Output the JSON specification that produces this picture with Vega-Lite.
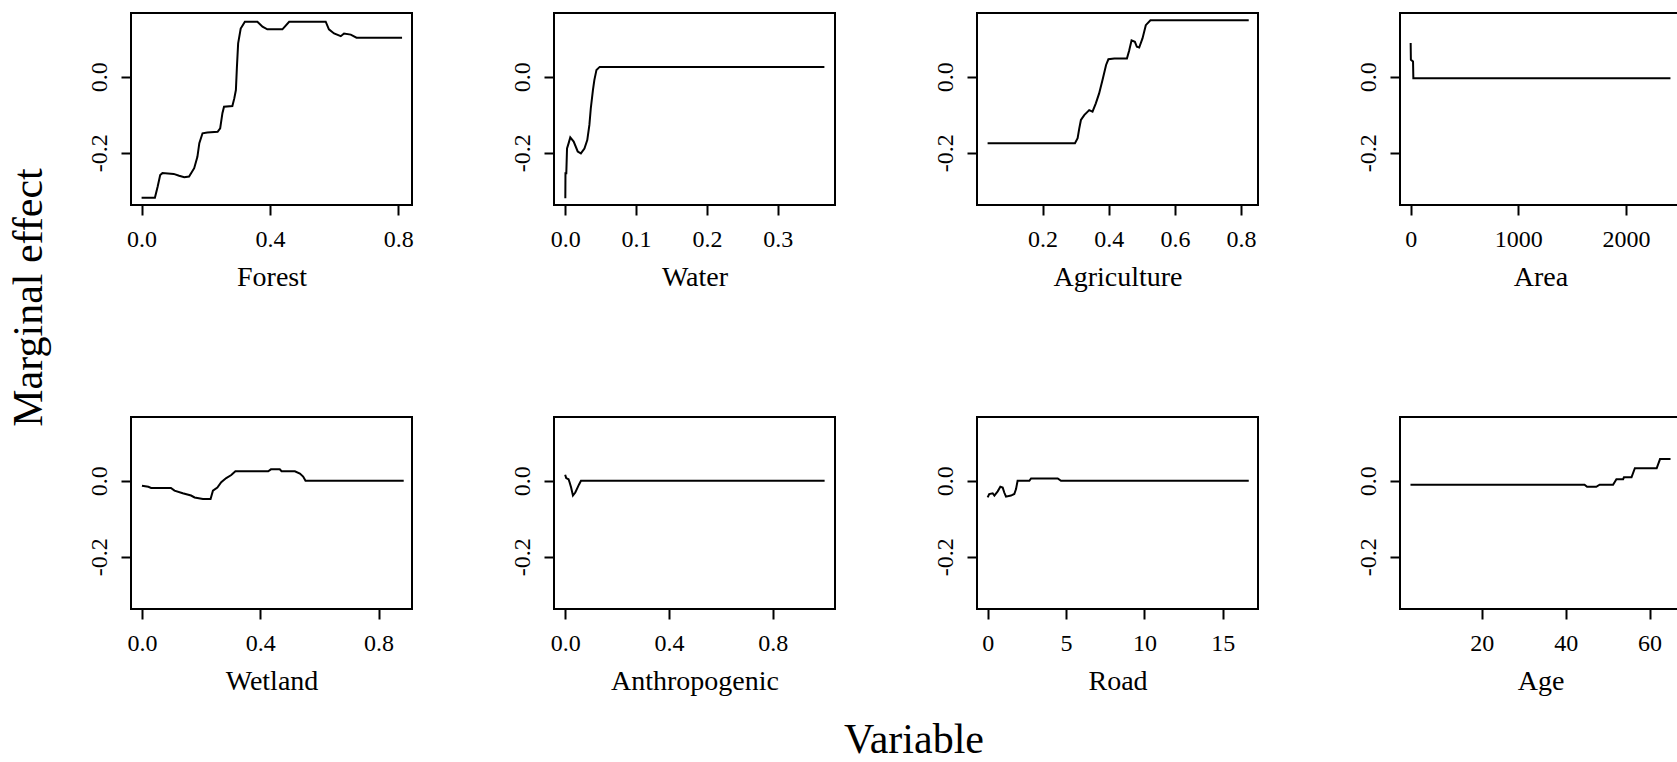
{
  "$schema": "https://vega.github.io/schema/vega-lite/v6.json",
  "background": "white",
  "padding": {"left": 7, "top": 12, "right": 0, "bottom": 0},
  "datasets": {
    "forest": [
      {"x": 0, "y": -0.319}, {"x": 0.0415, "y": -0.319}, {"x": 0.05, "y": -0.29}, {"x": 0.058, "y": -0.259},
      {"x": 0.065, "y": -0.254}, {"x": 0.1, "y": -0.256}, {"x": 0.117, "y": -0.261}, {"x": 0.133, "y": -0.265},
      {"x": 0.148, "y": -0.263}, {"x": 0.164, "y": -0.241}, {"x": 0.174, "y": -0.211}, {"x": 0.18, "y": -0.175},
      {"x": 0.19, "y": -0.149}, {"x": 0.205, "y": -0.147}, {"x": 0.237, "y": -0.145}, {"x": 0.245, "y": -0.136},
      {"x": 0.252, "y": -0.096}, {"x": 0.257, "y": -0.079}, {"x": 0.283, "y": -0.077}, {"x": 0.289, "y": -0.057},
      {"x": 0.294, "y": -0.035}, {"x": 0.297, "y": 0.022}, {"x": 0.301, "y": 0.088}, {"x": 0.309, "y": 0.127},
      {"x": 0.322, "y": 0.145}, {"x": 0.361, "y": 0.145}, {"x": 0.377, "y": 0.132}, {"x": 0.392, "y": 0.125},
      {"x": 0.439, "y": 0.125}, {"x": 0.46, "y": 0.145}, {"x": 0.574, "y": 0.145}, {"x": 0.584, "y": 0.125},
      {"x": 0.6, "y": 0.114}, {"x": 0.621, "y": 0.107}, {"x": 0.631, "y": 0.114}, {"x": 0.652, "y": 0.111},
      {"x": 0.67, "y": 0.103}, {"x": 0.812, "y": 0.103}
    ],
    "water": [
      {"x": 0, "y": -0.32}, {"x": 0.0002, "y": -0.254}, {"x": 0.0014, "y": -0.254}, {"x": 0.0024, "y": -0.189},
      {"x": 0.0047, "y": -0.175}, {"x": 0.007, "y": -0.16}, {"x": 0.0118, "y": -0.171}, {"x": 0.0175, "y": -0.197},
      {"x": 0.022, "y": -0.202}, {"x": 0.027, "y": -0.189}, {"x": 0.031, "y": -0.167}, {"x": 0.034, "y": -0.127},
      {"x": 0.036, "y": -0.083}, {"x": 0.039, "y": -0.035}, {"x": 0.041, "y": -0.009}, {"x": 0.044, "y": 0.018},
      {"x": 0.0486, "y": 0.026}, {"x": 0.366, "y": 0.026}
    ],
    "agriculture": [
      {"x": 0.034, "y": -0.175}, {"x": 0.298, "y": -0.175}, {"x": 0.306, "y": -0.162}, {"x": 0.311, "y": -0.136},
      {"x": 0.316, "y": -0.114}, {"x": 0.326, "y": -0.101}, {"x": 0.341, "y": -0.088}, {"x": 0.351, "y": -0.092},
      {"x": 0.361, "y": -0.07}, {"x": 0.371, "y": -0.044}, {"x": 0.381, "y": -0.009}, {"x": 0.392, "y": 0.031},
      {"x": 0.399, "y": 0.046}, {"x": 0.417, "y": 0.048}, {"x": 0.455, "y": 0.048}, {"x": 0.462, "y": 0.07},
      {"x": 0.469, "y": 0.096}, {"x": 0.479, "y": 0.092}, {"x": 0.485, "y": 0.079}, {"x": 0.492, "y": 0.077},
      {"x": 0.502, "y": 0.101}, {"x": 0.512, "y": 0.136}, {"x": 0.526, "y": 0.149}, {"x": 0.823, "y": 0.149}
    ],
    "area": [
      {"x": 0, "y": 0.089}, {"x": 2, "y": 0.045}, {"x": 22, "y": 0.04}, {"x": 25, "y": -0.004}, {"x": 2412, "y": -0.004}
    ],
    "wetland": [
      {"x": 0, "y": -0.013}, {"x": 0.0215, "y": -0.016}, {"x": 0.031, "y": -0.019}, {"x": 0.098, "y": -0.019},
      {"x": 0.11, "y": -0.026}, {"x": 0.138, "y": -0.033}, {"x": 0.166, "y": -0.039}, {"x": 0.178, "y": -0.044},
      {"x": 0.206, "y": -0.048}, {"x": 0.232, "y": -0.048}, {"x": 0.24, "y": -0.026}, {"x": 0.255, "y": -0.018},
      {"x": 0.268, "y": -0.004}, {"x": 0.285, "y": 0.007}, {"x": 0.302, "y": 0.015}, {"x": 0.316, "y": 0.025},
      {"x": 0.427, "y": 0.025}, {"x": 0.436, "y": 0.03}, {"x": 0.466, "y": 0.03}, {"x": 0.472, "y": 0.025},
      {"x": 0.517, "y": 0.025}, {"x": 0.534, "y": 0.019}, {"x": 0.545, "y": 0.011}, {"x": 0.553, "y": 0},
      {"x": 0.885, "y": 0}
    ],
    "anthropogenic": [
      {"x": 0, "y": 0.016}, {"x": 0.004, "y": 0.007}, {"x": 0.013, "y": 0.004}, {"x": 0.017, "y": -0.004},
      {"x": 0.023, "y": -0.018}, {"x": 0.03, "y": -0.039}, {"x": 0.039, "y": -0.031}, {"x": 0.045, "y": -0.022},
      {"x": 0.054, "y": -0.009}, {"x": 0.061, "y": 0}, {"x": 1.0, "y": 0}
    ],
    "road": [
      {"x": 0, "y": -0.044}, {"x": 0.1, "y": -0.035}, {"x": 0.32, "y": -0.033}, {"x": 0.43, "y": -0.039},
      {"x": 0.64, "y": -0.028}, {"x": 0.81, "y": -0.016}, {"x": 0.96, "y": -0.018}, {"x": 1.06, "y": -0.031},
      {"x": 1.17, "y": -0.042}, {"x": 1.49, "y": -0.039}, {"x": 1.7, "y": -0.035}, {"x": 1.81, "y": -0.022},
      {"x": 1.91, "y": 0}, {"x": 2.66, "y": 0}, {"x": 2.77, "y": 0.006}, {"x": 4.47, "y": 0.006},
      {"x": 4.68, "y": 0}, {"x": 16.66, "y": 0}
    ],
    "age": [
      {"x": 3, "y": -0.0105}, {"x": 44.5, "y": -0.0105}, {"x": 45.1, "y": -0.016}, {"x": 47.3, "y": -0.016},
      {"x": 48.1, "y": -0.0105}, {"x": 51.3, "y": -0.0105}, {"x": 52.1, "y": 0.004}, {"x": 53.7, "y": 0.004},
      {"x": 53.9, "y": 0.009}, {"x": 55.7, "y": 0.009}, {"x": 56.5, "y": 0.033}, {"x": 61.7, "y": 0.033},
      {"x": 62.5, "y": 0.057}, {"x": 65, "y": 0.057}
    ]
  },
  "title": {"text": "Marginal effect", "orient": "left", "anchor": "middle", "frame": "bounds", "offset": 2, "dx": 89, "fontSize": 42, "baseline": "alphabetic"},
  "vconcat": [
    {
      "title": {"text": "Variable", "orient": "bottom", "anchor": "middle", "frame": "group", "offset": 24, "dx": 783, "fontSize": 42},
      "columns": 4,
      "spacing": {"row": 212, "column": 142},
      "bounds": "flush",
      "concat": [
        {
          "width": 281, "height": 192, "data": {"name": "forest"},
          "mark": {"type": "line", "color": "black", "strokeWidth": 2},
          "encoding": {
            "x": {"field": "x", "type": "quantitative", "scale": {"domain": [-0.033, 0.843], "nice": false, "zero": false}, "axis": {"title": "Forest", "values": [0, 0.4, 0.8], "format": ".1f"}},
            "y": {"field": "y", "type": "quantitative", "scale": {"domain": [-0.338, 0.168], "nice": false, "zero": false}, "axis": {"title": null, "values": [-0.2, 0], "labelExpr": "replace(format(datum.value, '.1f'), '\u2212', '-')"}}
          }
        },
        {
          "width": 281, "height": 192, "data": {"name": "water"},
          "mark": {"type": "line", "color": "black", "strokeWidth": 2},
          "encoding": {
            "x": {"field": "x", "type": "quantitative", "scale": {"domain": [-0.016, 0.381], "nice": false, "zero": false}, "axis": {"title": "Water", "values": [0, 0.1, 0.2, 0.3], "format": ".1f"}},
            "y": {"field": "y", "type": "quantitative", "scale": {"domain": [-0.338, 0.168], "nice": false, "zero": false}, "axis": {"title": null, "values": [-0.2, 0], "labelExpr": "replace(format(datum.value, '.1f'), '\u2212', '-')"}}
          }
        },
        {
          "width": 281, "height": 192, "data": {"name": "agriculture"},
          "mark": {"type": "line", "color": "black", "strokeWidth": 2},
          "encoding": {
            "x": {"field": "x", "type": "quantitative", "scale": {"domain": [0.002, 0.851], "nice": false, "zero": false}, "axis": {"title": "Agriculture", "values": [0.2, 0.4, 0.6, 0.8], "format": ".1f"}},
            "y": {"field": "y", "type": "quantitative", "scale": {"domain": [-0.338, 0.168], "nice": false, "zero": false}, "axis": {"title": null, "values": [-0.2, 0], "labelExpr": "replace(format(datum.value, '.1f'), '\u2212', '-')"}}
          }
        },
        {
          "width": 281, "height": 192, "data": {"name": "area"},
          "mark": {"type": "line", "color": "black", "strokeWidth": 2},
          "encoding": {
            "x": {"field": "x", "type": "quantitative", "scale": {"domain": [-99, 2510], "nice": false, "zero": false}, "axis": {"title": "Area", "values": [0, 1000, 2000], "format": "d"}},
            "y": {"field": "y", "type": "quantitative", "scale": {"domain": [-0.338, 0.168], "nice": false, "zero": false}, "axis": {"title": null, "values": [-0.2, 0], "labelExpr": "replace(format(datum.value, '.1f'), '\u2212', '-')"}}
          }
        },
        {
          "width": 281, "height": 192, "data": {"name": "wetland"},
          "mark": {"type": "line", "color": "black", "strokeWidth": 2},
          "encoding": {
            "x": {"field": "x", "type": "quantitative", "scale": {"domain": [-0.037, 0.913], "nice": false, "zero": false}, "axis": {"title": "Wetland", "values": [0, 0.4, 0.8], "format": ".1f"}},
            "y": {"field": "y", "type": "quantitative", "scale": {"domain": [-0.338, 0.168], "nice": false, "zero": false}, "axis": {"title": null, "values": [-0.2, 0], "labelExpr": "replace(format(datum.value, '.1f'), '\u2212', '-')"}}
          }
        },
        {
          "width": 281, "height": 192, "data": {"name": "anthropogenic"},
          "mark": {"type": "line", "color": "black", "strokeWidth": 2},
          "encoding": {
            "x": {"field": "x", "type": "quantitative", "scale": {"domain": [-0.043, 1.04], "nice": false, "zero": false}, "axis": {"title": "Anthropogenic", "values": [0, 0.4, 0.8], "format": ".1f"}},
            "y": {"field": "y", "type": "quantitative", "scale": {"domain": [-0.338, 0.168], "nice": false, "zero": false}, "axis": {"title": null, "values": [-0.2, 0], "labelExpr": "replace(format(datum.value, '.1f'), '\u2212', '-')"}}
          }
        },
        {
          "width": 281, "height": 192, "data": {"name": "road"},
          "mark": {"type": "line", "color": "black", "strokeWidth": 2},
          "encoding": {
            "x": {"field": "x", "type": "quantitative", "scale": {"domain": [-0.68, 17.25], "nice": false, "zero": false}, "axis": {"title": "Road", "values": [0, 5, 10, 15], "format": "d"}},
            "y": {"field": "y", "type": "quantitative", "scale": {"domain": [-0.338, 0.168], "nice": false, "zero": false}, "axis": {"title": null, "values": [-0.2, 0], "labelExpr": "replace(format(datum.value, '.1f'), '\u2212', '-')"}}
          }
        },
        {
          "width": 281, "height": 192, "data": {"name": "age"},
          "mark": {"type": "line", "color": "black", "strokeWidth": 2},
          "encoding": {
            "x": {"field": "x", "type": "quantitative", "scale": {"domain": [0.5, 67.5], "nice": false, "zero": false}, "axis": {"title": "Age", "values": [20, 40, 60], "format": "d"}},
            "y": {"field": "y", "type": "quantitative", "scale": {"domain": [-0.338, 0.168], "nice": false, "zero": false}, "axis": {"title": null, "values": [-0.2, 0], "labelExpr": "replace(format(datum.value, '.1f'), '\u2212', '-')"}}
          }
        }
      ]
    }
  ],
  "config": {
    "font": "Liberation Serif",
    "view": {"stroke": "black", "strokeWidth": 2},
    "title": {"font": "Liberation Serif", "fontWeight": "normal", "color": "black", "fontSize": 42},
    "axis": {
      "domain": false, "grid": false, "ticks": true, "tickColor": "black", "tickWidth": 2, "tickSize": 10,
      "labelFont": "Liberation Serif", "labelFontSize": 24, "labelColor": "black",
      "titleFont": "Liberation Serif", "titleFontSize": 28, "titleFontWeight": "normal", "titleColor": "black",
      "labelFlush": false, "labelOverlap": false
    },
    "axisX": {"labelPadding": 12, "titlePadding": 12},
    "axisY": {"labelAngle": -90, "labelAlign": "center", "labelBaseline": "alphabetic", "labelPadding": 15}
  }
}
